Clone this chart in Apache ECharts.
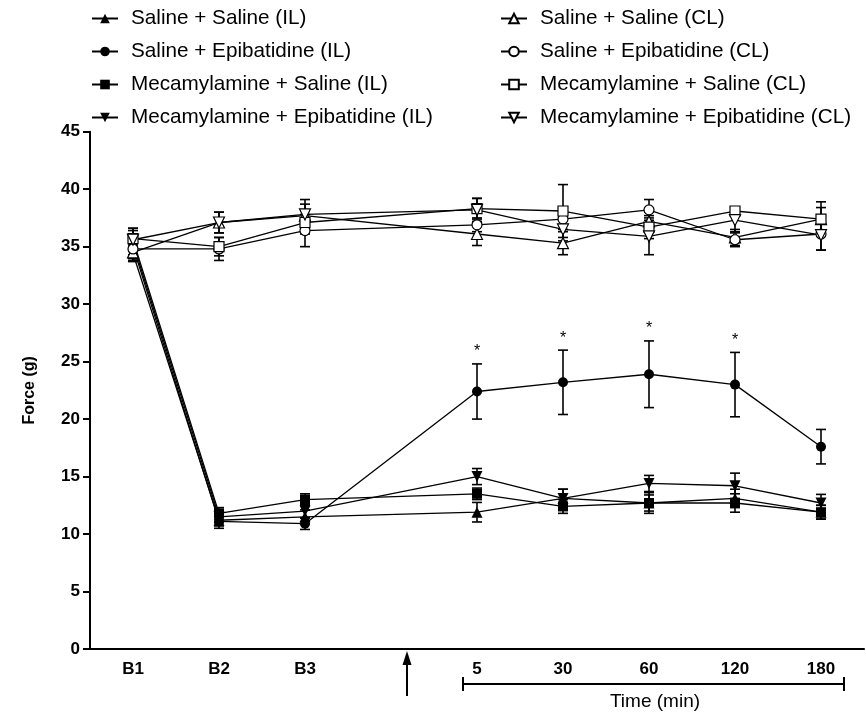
<!DOCTYPE html>
<html>
<head>
<meta charset="utf-8">
<script src="https://cdn.jsdelivr.net/npm/echarts@6/dist/echarts.min.js"></script>
<style>
html,body{margin:0;padding:0;background:#fff;}
#chart{width:866px;height:722px;}
</style>
</head>
<body>
<div id="chart"></div>
<script>
// ---- Data ----
const categories = ['B1', 'B2', 'B3', '', '5', '30', '60', '120', '180'];
const yTicks = [0, 5, 10, 15, 20, 25, 30, 35, 40, 45];

const seriesNames = [
  'Saline + Saline (IL)', 'Saline + Epibatidine (IL)',
  'Mecamylamine + Saline (IL)', 'Mecamylamine + Epibatidine (IL)',
  'Saline + Saline (CL)', 'Saline + Epibatidine (CL)',
  'Mecamylamine + Saline (CL)', 'Mecamylamine + Epibatidine (CL)'
];

const salSalIL     = [34.4, 11.2, 11.5, null, 11.9, 13.1, 12.7, 13.1, 11.9];
const salSalIL_err = [0.6, 0.5, 0.6, null, 0.85, 0.8, 0.9, 0.8, 0.6];
const salEpiIL     = [35.0, 11.1, 10.9, null, 22.4, 23.2, 23.9, 23.0, 17.6];
const salEpiIL_err = [0.7, 0.6, 0.5, null, 2.4, 2.8, 2.9, 2.8, 1.5];
const mecSalIL     = [35.6, 11.8, 13.0, null, 13.5, 12.4, 12.7, 12.7, 11.9];
const mecSalIL_err = [0.8, 0.5, 0.5, null, 0.5, 0.6, 0.7, 0.8, 0.6];
const mecEpiIL     = [35.3, 11.5, 12.0, null, 15.0, 13.1, 14.4, 14.2, 12.7];
const mecEpiIL_err = [0.7, 0.5, 0.6, null, 0.7, 0.8, 0.7, 1.1, 0.75];

const salSalCL     = [34.5, 37.1, 37.7, null, 36.1, 35.3, 37.2, 35.8, 37.4];
const salSalCL_err = [0.8, 0.9, 1.0, null, 1.0, 1.0, 0.8, 0.7, 1.0];
const salEpiCL     = [34.8, 34.8, 36.4, null, 36.9, 37.4, 38.2, 35.6, 36.1];
const salEpiCL_err = [1.0, 1.0, 1.4, null, 0.6, 0.9, 0.9, 0.6, 1.4];
const mecSalCL     = [35.7, 35.0, 37.1, null, 38.3, 38.1, 36.7, 38.1, 37.4];
const mecSalCL_err = [0.9, 0.8, 1.0, null, 0.9, 2.3, 1.0, 0.3, 1.5];
const mecEpiCL     = [35.6, 37.1, 37.8, null, 38.2, 36.5, 35.9, 37.3, 36.0];
const mecEpiCL_err = [1.0, 0.9, 1.3, null, 1.0, 1.0, 1.6, 1.0, 1.3];

const significance = [0, 0, 0, 0, 1, 1, 1, 1, 0]; // '*' above Saline + Epibatidine (IL)

// ---- Build ----
const FONT = 'Liberation Sans, Arial, Helvetica, sans-serif';
const means = [salSalIL, salEpiIL, mecSalIL, mecEpiIL, salSalCL, salEpiCL, mecSalCL, mecEpiCL];
const errs  = [salSalIL_err, salEpiIL_err, mecSalIL_err, mecEpiIL_err, salSalCL_err, salEpiCL_err, mecSalCL_err, mecEpiCL_err];
const symbols = ['triangle', 'circle', 'rect', 'triangle', 'triangle', 'circle', 'rect', 'triangle'];
const rotates = [0, 0, 0, 180, 0, 0, 0, 180];
const filled  = [true, true, true, true, false, false, false, false];
const sizes   = [11, 10, 10, 11, 11, 10, 10, 11];

function errRender(params, api) {
  const x = api.value(0), lo = api.value(1), hi = api.value(2);
  const p1 = api.coord([x, hi]), p2 = api.coord([x, lo]);
  const w = 5;
  const st = { stroke: '#000', lineWidth: 1.6 };
  return {
    type: 'group',
    children: [
      { type: 'line', shape: { x1: p1[0], y1: p1[1], x2: p2[0], y2: p2[1] }, style: st },
      { type: 'line', shape: { x1: p1[0] - w, y1: p1[1], x2: p1[0] + w, y2: p1[1] }, style: st },
      { type: 'line', shape: { x1: p2[0] - w, y1: p2[1], x2: p2[0] + w, y2: p2[1] }, style: st }
    ]
  };
}

const series = [];
means.forEach((m, k) => {
  const ed = [];
  m.forEach((v, i) => { if (v != null) ed.push([i, v - errs[k][i], v + errs[k][i]]); });
  series.push({
    type: 'custom', name: seriesNames[k] + ' err', renderItem: errRender,
    data: ed, encode: { x: 0, y: [1, 2] }, z: 1, silent: true
  });
});
means.forEach((m, k) => {
  series.push({
    type: 'line', name: seriesNames[k], data: m, connectNulls: true,
    symbol: symbols[k], symbolRotate: rotates[k], symbolSize: sizes[k],
    lineStyle: { color: '#000', width: 1.3 },
    itemStyle: filled[k] ? { color: '#000', borderColor: '#000', borderWidth: 0 }
                         : { color: '#fff', borderColor: '#000', borderWidth: 1.2 },
    z: 3, animation: false
  });
});
// significance asterisks
const sigData = [];
significance.forEach((s, i) => { if (s) sigData.push([i, salEpiIL[i] + salEpiIL_err[i]]); });
series.push({
  type: 'custom', name: 'sig', data: sigData, encode: { x: 0, y: 1 }, z: 4, silent: true,
  renderItem: function (params, api) {
    const p = api.coord([api.value(0), api.value(1)]);
    return { type: 'text', style: { text: '*', x: p[0], y: p[1] - 12, align: 'center', verticalAlign: 'middle',
      font: '16px ' + FONT, fill: '#000' } };
  }
});

const legendBase = {
  orient: 'vertical', top: 3, itemWidth: 26, itemHeight: 12, itemGap: 12,
  textStyle: { fontSize: 20.7, fontFamily: FONT, color: '#000', lineHeight: 20, padding: [0, 0, 0, 8] },
  selectedMode: false
};

const chart = echarts.init(document.getElementById('chart'), null, { renderer: 'canvas' });
chart.setOption({
  animation: false,
  backgroundColor: '#fff',
  grid: { left: 90, right: 2, top: 131.7, bottom: 73, containLabel: false },
  legend: [
    Object.assign({}, legendBase, { left: 86, data: seriesNames.slice(0, 4) }),
    Object.assign({}, legendBase, { left: 495, data: seriesNames.slice(4, 8) })
  ],
  xAxis: {
    type: 'category', data: categories, boundaryGap: true,
    axisLine: { lineStyle: { color: '#000', width: 2 } },
    axisTick: { alignWithLabel: true, length: 7, lineStyle: { color: '#000', width: 2 },
      interval: function (idx) { return categories[idx] !== ''; } },
    axisLabel: { interval: 0, margin: 12, color: '#000', fontWeight: 'bold', fontSize: 17, fontFamily: FONT }
  },
  yAxis: {
    type: 'value', min: yTicks[0], max: yTicks[yTicks.length - 1], interval: 5,
    name: 'Force (g)', nameLocation: 'middle', nameGap: 52,
    nameTextStyle: { fontWeight: 'bold', fontSize: 16, fontFamily: FONT, color: '#000' },
    axisLine: { show: true, lineStyle: { color: '#000', width: 2 } },
    axisTick: { show: true, length: 7, lineStyle: { color: '#000', width: 2 } },
    axisLabel: { margin: 10, color: '#000', fontWeight: 'bold', fontSize: 17, fontFamily: FONT },
    splitLine: { show: false }
  },
  series: series,
  graphic: [
    // injection arrow
    { type: 'line', shape: { x1: 407, y1: 660, x2: 407, y2: 696 }, style: { stroke: '#000', lineWidth: 2 } },
    { type: 'polygon', shape: { points: [[407, 651], [402.5, 665], [411.5, 665]] }, style: { fill: '#000' } },
    // time bracket
    { type: 'line', shape: { x1: 463, y1: 684, x2: 844, y2: 684 }, style: { stroke: '#000', lineWidth: 2 } },
    { type: 'line', shape: { x1: 463, y1: 677, x2: 463, y2: 691 }, style: { stroke: '#000', lineWidth: 2 } },
    { type: 'line', shape: { x1: 844, y1: 677, x2: 844, y2: 691 }, style: { stroke: '#000', lineWidth: 2 } },
    { type: 'text', style: { text: 'Time (min)', x: 655, y: 702, align: 'center', verticalAlign: 'middle',
      font: '19px ' + FONT, fill: '#000' } }
  ]
});
</script>
</body>
</html>
